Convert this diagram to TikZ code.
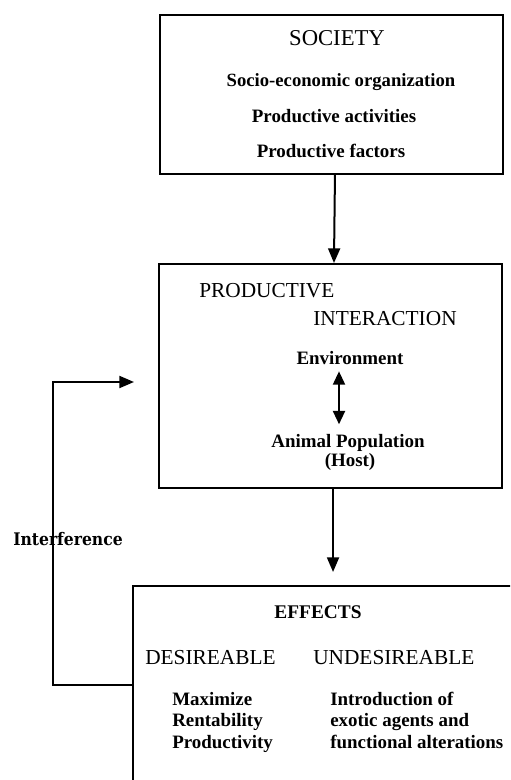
\documentclass[tikz,border=0pt]{standalone}
\usepackage{fontspec}
\setmainfont{Liberation Serif}
\newfontfamily\intfont{DejaVu Serif Condensed}
\usetikzlibrary{arrows.meta}
\begin{document}
\begin{tikzpicture}[x=0.75pt,y=-0.75pt,
  box/.style={draw,line width=1.5pt,rectangle,inner sep=0pt},
  hd/.style={font=\fontsize{16pt}{18pt}\selectfont,inner sep=0pt},
  bd/.style={font=\fontsize{14.2pt}{16pt}\selectfont\bfseries,inner sep=0pt},
  arr/.style={line width=1.5pt,-{Triangle[length=11pt,width=9pt]}},
  dbl/.style={line width=1.5pt,{Triangle[length=10pt,width=9pt]}-{Triangle[length=10pt,width=9pt]}}]
\useasboundingbox (0,0) rectangle (510,780);
\fill[white] (0,0) rectangle (510,780);
\clip (0,0) rectangle (510,780);
% boxes
\node[box,minimum width=257.25pt,minimum height=119.25pt] (soc) at (331.5,94.5) {};
\node[box,minimum width=257.25pt,minimum height=168pt] (pi) at (330.5,376) {};
\node[box,anchor=north west,minimum width=330pt,minimum height=200pt] (eff) at (132,585) {};
% society texts
\node[hd,font=\fontsize{17pt}{19pt}\selectfont,anchor=base] (socT) at (337,46) {SOCIETY};
\node[bd,font=\fontsize{14pt}{16pt}\selectfont\bfseries,anchor=base] (soc1) at (341,87) {Socio-economic organization};
\node[bd,anchor=base] (soc2) at (334,123) {Productive activities};
\node[bd,anchor=base] (soc3) at (331,158) {Productive factors};
% productive interaction texts
\node[hd,anchor=base west] (piT1) at (199,297) {PRODUCTIVE};
\node[hd,anchor=base west] (piT2) at (313,325) {INTERACTION};
\node[bd,anchor=base] (env) at (350,364) {Environment};
\node[bd,anchor=base] (ani) at (348,447) {Animal Population};
\node[bd,anchor=base] (host) at (350,466) {(Host)};
% effects texts
\node[bd,font=\fontsize{14.5pt}{16pt}\selectfont\bfseries,anchor=base] (effT) at (318,618) {EFFECTS};
\node[hd,anchor=base west] (des) at (145,664) {DESIREABLE};
\node[hd,anchor=base west] (undes) at (313,664) {UNDESIREABLE};
\node[bd,anchor=base west] (d1) at (172,705) {Maximize};
\node[bd,anchor=base west] (d2) at (172,726.5) {Rentability};
\node[bd,anchor=base west] (d3) at (172,748) {Productivity};
\node[bd,anchor=base west] (u1) at (330,705) {Introduction of};
\node[bd,anchor=base west] (u2) at (330,726.5) {exotic agents and};
\node[bd,anchor=base west] (u3) at (330,748) {functional alterations};
% interference label
\node[font=\intfont\fontsize{13pt}{15pt}\selectfont\bfseries,inner sep=0pt] (intf) at (68,539) {Interference};
% connectors
\draw[arr] ([xshift=2.6pt]soc.south) -- ([xshift=2.6pt]pi.north);
\draw[arr,shorten >=9.75pt] ([xshift=1.9pt]pi.south) -- ([xshift=1.9pt]pi.south |- eff.north);
\draw[dbl,shorten >=12pt] ([xshift=-8.25pt,yshift=-5.5pt]env.base) -- ([xshift=-8.25pt,yshift=-5pt]env.base |- ani.north);
\coordinate (fbb) at (53,685);
\coordinate (fbt) at (53,382);
\draw[arr,shorten >=18pt] (eff.west |- fbb) -- (fbb) -- (fbt) -- (pi.west |- fbt);
\end{tikzpicture}
\end{document}
